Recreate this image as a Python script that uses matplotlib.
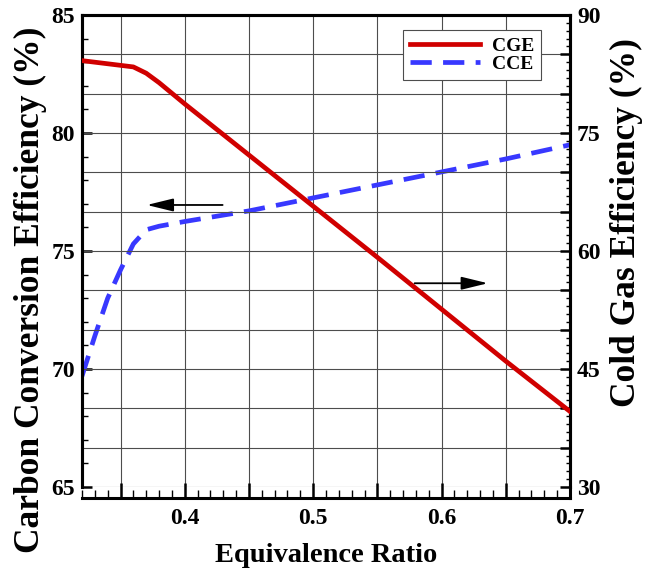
import matplotlib
matplotlib.use('Agg')
import matplotlib.pyplot as plt
from matplotlib.ticker import MultipleLocator, FuncFormatter

plt.rcParams['font.family'] = ['Liberation Serif', 'DejaVu Serif']
plt.rcParams['font.weight'] = 'bold'

# equivalence ratio
er = [0.32, 0.33, 0.34, 0.35, 0.36, 0.37, 0.38, 0.40, 0.45, 0.50, 0.55, 0.60, 0.65, 0.70]
# cold gas efficiency (%), right axis
cge = [84.2, 84.0, 83.8, 83.6, 83.4, 82.6, 81.4, 78.7, 72.2, 65.7, 59.2, 52.6, 46.0, 39.6]
# carbon conversion efficiency (%), left axis
cce = [69.7, 71.4, 73.0, 74.2, 75.3, 75.9, 76.05, 76.25, 76.7, 77.25, 77.8, 78.35, 78.9, 79.5]

fig = plt.figure(figsize=(6.46, 5.71), dpi=100)
ax = fig.add_axes([82/646, 1-487/571, 488/646, 472/571])
ax2 = ax.twinx()

red = '#d00000'
blue = '#3838ff'

l2, = ax.plot(er, cce, color=blue, lw=3.4, ls=(0, (4.5, 2.4)), label='CCE', zorder=3)
l1, = ax2.plot(er, cge, color=red, lw=3.4, label='CGE', zorder=3)

ax.set_xlim(0.32, 0.7)
ax.set_ylim(65, 85)
ax2.set_ylim(30, 90)

ax.xaxis.set_major_locator(MultipleLocator(0.05))
ax.xaxis.set_minor_locator(MultipleLocator(0.01))
ax.xaxis.set_major_formatter(FuncFormatter(
    lambda v, p: f'{v:.1f}' if abs(v*10 - round(v*10)) < 1e-6 else ''))
ax.yaxis.set_major_locator(MultipleLocator(5))
ax.yaxis.set_minor_locator(MultipleLocator(1))
ax2.yaxis.set_major_locator(MultipleLocator(5))
ax2.yaxis.set_minor_locator(MultipleLocator(1))
ax2.yaxis.set_major_formatter(FuncFormatter(
    lambda v, p: f'{v:.0f}' if round(v) % 15 == 0 else ''))

ax.grid(True, axis='x', which='major', color='0.3', lw=0.8)
ax2.grid(True, axis='y', which='major', color='0.3', lw=0.8)
ax2.set_axisbelow(True)

for a in (ax, ax2):
    for s in a.spines.values():
        s.set_linewidth(2.2)
ax.spines['bottom'].set_position(('outward', 8))
ax2.spines['bottom'].set_visible(False)
# right spine continues down to the offset x-axis
ax.plot([1, 1], [0, -0.024], transform=ax.transAxes, color='k', lw=2.2,
        clip_on=False, solid_capstyle='projecting')

ax.tick_params(axis='x', which='major', direction='in', length=11, width=1.8,
               labelsize=17, pad=7)
ax.tick_params(axis='x', which='minor', direction='in', length=6, width=1.0)
ax.tick_params(axis='y', which='major', direction='in', length=7, width=1.8,
               labelsize=17, pad=5)
ax.tick_params(axis='y', which='minor', direction='in', length=4, width=1.0)
ax2.tick_params(axis='y', which='major', direction='in', length=7, width=1.8,
                labelsize=17, pad=5)
ax2.tick_params(axis='y', which='minor', direction='in', length=3, width=1.0)

ax.set_xlabel('Equivalence Ratio', fontsize=20.5, fontweight='bold', labelpad=10)
ax.set_ylabel('Carbon Conversion Efficiency (%)', fontsize=25.5, fontweight='bold', labelpad=3)
ax2.set_ylabel('Cold Gas Efficiency (%)', fontsize=25.5, fontweight='bold', labelpad=7)
ax.yaxis.label.set_y(0.417)
ax2.yaxis.label.set_y(0.561)

# direction arrows
ax.annotate('', xy=(0.3705, 76.95), xytext=(0.4295, 76.95),
            arrowprops=dict(arrowstyle='-|>,head_length=0.9,head_width=0.22',
                            color='k', lw=1.3, mutation_scale=18, shrinkA=0, shrinkB=0))
ax2.annotate('', xy=(0.636, 55.9), xytext=(0.579, 55.9),
             arrowprops=dict(arrowstyle='-|>,head_length=0.9,head_width=0.22',
                             color='k', lw=1.3, mutation_scale=18, shrinkA=0, shrinkB=0))

leg = ax2.legend(handles=[l1, l2], loc='upper right', bbox_to_anchor=(0.9406, 0.968),
                 fontsize=14, frameon=True, fancybox=False, edgecolor='0.3',
                 handlelength=3.6, borderpad=0.35, labelspacing=0.05, handletextpad=0.6,
                 borderaxespad=0)
leg.get_frame().set_linewidth(0.8)
leg.get_frame().set_alpha(1)

fig.savefig('out.png', dpi=100)
